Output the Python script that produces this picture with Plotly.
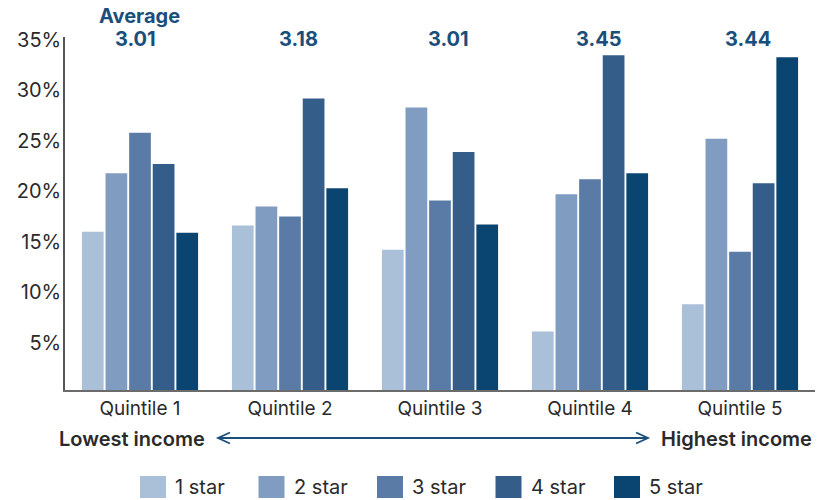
import plotly.graph_objects as go

# Share of ratings by star level within each income quintile (%)
quintiles = ["Quintile 1", "Quintile 2", "Quintile 3", "Quintile 4", "Quintile 5"]
series_names = ["1 star", "2 star", "3 star", "4 star", "5 star"]
one_star = [15.7, 16.3, 13.9, 5.8, 8.5]
two_star = [21.5, 18.2, 28.0, 19.4, 24.9]
three_star = [25.5, 17.2, 18.8, 20.9, 13.7]
four_star = [22.4, 28.9, 23.6, 33.2, 20.5]
five_star = [15.6, 20.0, 16.4, 21.5, 33.0]
averages = ["3.01", "3.18", "3.01", "3.45", "3.44"]
tick_values = [5, 10, 15, 20, 25, 30, 35]

series_values = [one_star, two_star, three_star, four_star, five_star]
colors = ["#aabfd8", "#819cc1", "#5a7ba6", "#345e89", "#0a4571"]
avg_color = "#1a4e7b"
text_color = "#2a2a2a"
font_family = "Inter, Roboto, sans-serif"

fig = go.Figure()
for name, vals, col in zip(series_names, series_values, colors):
    fig.add_trace(go.Bar(x=quintiles, y=vals, name=name, marker=dict(color=col, line=dict(width=0)),
                         showlegend=False))

W, H = 833, 500
ml, mr, mt, mb = 65, 18, 37, 110
pw, ph = W - ml - mr, H - mt - mb


def px_x(p):
    return (p - ml) / pw


def px_y(p):
    return (H - mb - p) / ph


annotations = []
# Average rating above each quintile
for i, (q, a) in enumerate(zip(quintiles, averages)):
    annotations.append(dict(x=q, y=px_y(39), xref="x", yref="paper", yanchor="middle",
                            xshift=-5 if i == 0 else 8, text=f"<b>{a}</b>", showarrow=False,
                            font=dict(family=font_family, size=20, color=avg_color)))
annotations.append(dict(x=quintiles[0], y=px_y(16), xref="x", yref="paper", yanchor="middle",
                        xshift=-1, text="<b>Average</b>", showarrow=False,
                        font=dict(family=font_family, size=20, color=avg_color)))

# Income direction labels
annotations.append(dict(x=px_x(207), y=px_y(439), xref="paper", yref="paper", xanchor="right",
                        yanchor="middle", text="Lowest income", showarrow=False,
                        font=dict(family=font_family, size=20, color=text_color, weight=600)))
annotations.append(dict(x=px_x(659), y=px_y(439), xref="paper", yref="paper", xanchor="left",
                        yanchor="middle", text="Highest income", showarrow=False,
                        font=dict(family=font_family, size=20, color=text_color, weight=600)))

shapes = []
ay = px_y(438)
x0, x1 = px_x(218), px_x(648)
dx, dy = 12 / pw, 5.5 / ph
shapes.append(dict(type="line", xref="paper", yref="paper", x0=x0, x1=x1, y0=ay, y1=ay,
                   line=dict(color=avg_color, width=1.8)))
shapes.append(dict(type="path", xref="paper", yref="paper",
                   path=f"M{x0+dx},{ay+dy} L{x0},{ay} L{x0+dx},{ay-dy}",
                   line=dict(color=avg_color, width=1.8)))
shapes.append(dict(type="path", xref="paper", yref="paper",
                   path=f"M{x1-dx},{ay+dy} L{x1},{ay} L{x1-dx},{ay-dy}",
                   line=dict(color=avg_color, width=1.8)))

# Legend drawn as swatches with labels
leg_y = px_y(487)
sw_w, sw_h = 26 / pw, 22 / ph
for k, (name, col) in enumerate(zip(series_names, colors)):
    left = 140 + k * 118.5
    shapes.append(dict(type="rect", xref="paper", yref="paper", x0=px_x(left), x1=px_x(left) + sw_w,
                       y0=leg_y - sw_h / 2, y1=leg_y + sw_h / 2, fillcolor=col, line=dict(width=0)))
    annotations.append(dict(x=px_x(left + 33), y=leg_y, xref="paper", yref="paper", xanchor="left",
                            yanchor="middle", text=name, showarrow=False,
                            font=dict(family=font_family, size=20, color=text_color)))

fig.update_layout(
    width=W, height=H,
    margin=dict(l=ml, r=mr, t=mt, b=mb, autoexpand=False),
    paper_bgcolor="white", plot_bgcolor="white",
    barmode="group", bargap=0.213, bargroupgap=0.08,
    annotations=annotations, shapes=shapes,
    showlegend=False,
    font=dict(family=font_family, color=text_color),
)
fig.update_xaxes(showgrid=False, showline=True, linecolor="#6b6b6b", linewidth=2,
                 ticks="", tickfont=dict(family=font_family, size=19, color=text_color),
                 range=[-0.5, 4.5], automargin=False)
fig.update_yaxes(range=[0, 35], tickvals=tick_values, ticktext=[f"{v}%" for v in tick_values],
                 showgrid=False, showline=True, linecolor="#555555", linewidth=1.5, ticks="",
                 ticklabelstandoff=-2, ticklabelshift=3, zeroline=False, automargin=False,
                 tickfont=dict(family=font_family, size=20, color=text_color))

fig.write_html("out.html")
